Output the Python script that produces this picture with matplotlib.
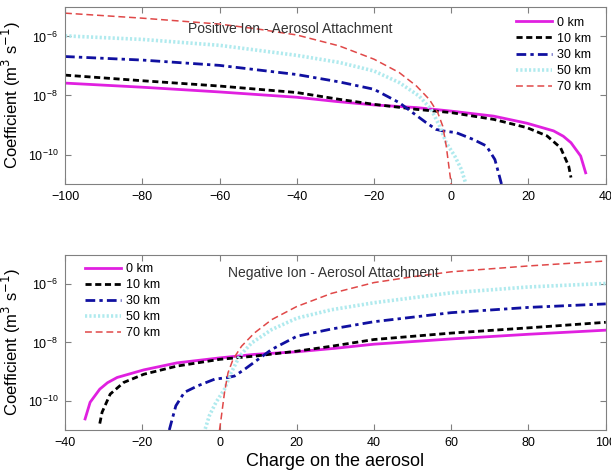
import matplotlib.pyplot as plt
import numpy as np

plt.rcParams['font.family'] = ['Liberation Sans', 'DejaVu Sans']

labels = ["0 km", "10 km", "30 km", "50 km", "70 km"]
colors = ["#e020e0", "#000000", "#1010a0", "#b0eaee", "#e04848"]
dashes = [None, (2.2, 1.3), (3.5, 1.5, 1.2, 1.5), (0.6, 0.6), (4.5, 2.5)]
widths = [2.0, 2.0, 2.0, 2.6, 1.1]

# positive ion - aerosol attachment: charge vs log10(coefficient)
pos_q = [
    [-100, -80, -60, -40, -30, -20, -9, 0, 11, 19.6, 26.5, 29, 31, 33.5, 34.8],
    [-100, -80, -60, -40, -29, -20, -9, 0, 11, 19.6, 24.8, 28.3, 30.4, 31],
    [-100, -80, -60, -40, -29, -20, -13.5, -10, -6.5, -3.9, -2.2, 1.3, 5.7, 9.1, 11.3, 12.6, 13],
    [-100, -80, -60, -40, -29, -20, -13.5, -8.3, -5.2, -3, -1.3, 0.9, 2.6, 3.7],
    [-100, -80, -60, -50, -40, -29, -20, -13.5, -9, -5.7, -3.5, -2.2, -1.3, -0.4, 0],
]
pos_logk = [
    [-7.58, -7.72, -7.88, -8.06, -8.20, -8.32, -8.41, -8.53, -8.70, -8.94, -9.20, -9.38, -9.60, -10.05, -10.62],
    [-7.31, -7.50, -7.68, -7.90, -8.13, -8.30, -8.47, -8.58, -8.81, -9.09, -9.37, -9.77, -10.39, -10.78],
    [-6.68, -6.80, -6.98, -7.29, -7.54, -7.79, -8.24, -8.58, -8.92, -9.15, -9.20, -9.26, -9.49, -9.71, -10.17, -10.80, -11.0],
    [-5.98, -6.10, -6.30, -6.64, -6.88, -7.17, -7.56, -8.02, -8.47, -9.04, -9.60, -10.05, -10.50, -10.96],
    [-5.21, -5.38, -5.58, -5.75, -5.95, -6.32, -6.77, -7.22, -7.68, -8.13, -8.58, -9.04, -9.71, -10.62, -11.0],
]

# negative ion - aerosol attachment
neg_q = [
    [-34.8, -33.5, -31, -29, -26.5, -19.6, -11, 0, 9, 20, 30, 40, 60, 80, 100],
    [-31, -30.4, -28.3, -24.8, -19.6, -11, 0, 9, 20, 29, 40, 60, 80, 100],
    [-13, -12.6, -11.3, -9.1, -5.7, -1.3, 2.2, 3.9, 6.5, 10, 13.5, 20, 29, 40, 60, 80, 100],
    [-3.7, -2.6, -0.9, 1.3, 3, 5.2, 8.3, 13.5, 20, 29, 40, 60, 80, 100],
    [0, 0.4, 1.3, 2.2, 3.5, 5.7, 9, 13.5, 20, 29, 40, 50, 60, 80, 100],
]
neg_logk = [
    [-10.62, -10.05, -9.60, -9.38, -9.20, -8.94, -8.70, -8.53, -8.41, -8.32, -8.20, -8.06, -7.88, -7.72, -7.58],
    [-10.78, -10.39, -9.77, -9.37, -9.09, -8.81, -8.58, -8.47, -8.30, -8.13, -7.90, -7.68, -7.50, -7.31],
    [-11.0, -10.80, -10.17, -9.71, -9.49, -9.26, -9.20, -9.15, -8.92, -8.58, -8.24, -7.79, -7.54, -7.29, -6.98, -6.80, -6.68],
    [-10.96, -10.50, -10.05, -9.60, -9.04, -8.47, -8.02, -7.56, -7.17, -6.88, -6.64, -6.30, -6.10, -5.98],
    [-11.0, -10.62, -9.71, -9.04, -8.58, -8.13, -7.68, -7.22, -6.77, -6.32, -5.95, -5.75, -5.58, -5.38, -5.21],
]

fig = plt.figure(figsize=(6.11, 4.76), dpi=100)
ax1 = fig.add_axes([0.1064, 0.6134, 0.885, 0.372])
ax2 = fig.add_axes([0.1064, 0.0966, 0.885, 0.368])

for ax, qs, ks in [(ax1, pos_q, pos_logk), (ax2, neg_q, neg_logk)]:
    for i in range(5):
        line, = ax.plot(qs[i], 10.0 ** np.array(ks[i]), color=colors[i],
                        lw=widths[i], label=labels[i])
        if dashes[i] is not None:
            line.set_dashes(dashes[i])
    ax.set_yscale('log')
    ax.set_ylim(1e-11, 1e-5)
    ax.set_yticks([1e-10, 1e-8, 1e-6])
    ax.minorticks_off()
    ax.tick_params(direction='in', top=True, right=True, labelsize=9, length=4,
                   color='#808080', pad=5)
    for s in ax.spines.values():
        s.set_color('#808080')
    ax.set_ylabel("Coefficient (m$^3$ s$^{-1}$)", fontsize=12)
    ax.yaxis.set_label_coords(-0.078, 0.5)

ax1.set_xlim(-100, 40)
ax1.set_xticks(range(-100, 41, 20))
ax2.set_xlim(-40, 100)
ax2.set_xticks(range(-40, 101, 20))
ax2.set_xlabel("Charge on the aerosol", fontsize=13, labelpad=3)

ax1.text(0.416, 0.876, "Positive Ion - Aerosol Attachment", transform=ax1.transAxes,
         ha='center', va='center', fontsize=10, color='#333333')
ax2.text(0.496, 0.897, "Negative Ion - Aerosol Attachment", transform=ax2.transAxes,
         ha='center', va='center', fontsize=10, color='#333333')

ax1.legend(loc='upper left', bbox_to_anchor=(0.834, 0.945), frameon=False, fontsize=9,
           handlelength=2.9, handletextpad=0.4, labelspacing=0.33,
           borderaxespad=0, borderpad=0)
ax2.legend(loc='upper left', bbox_to_anchor=(0.037, 0.954), frameon=False, fontsize=9,
           handlelength=2.9, handletextpad=0.4, labelspacing=0.33,
           borderaxespad=0, borderpad=0)

fig.savefig("out.png", dpi=100)
